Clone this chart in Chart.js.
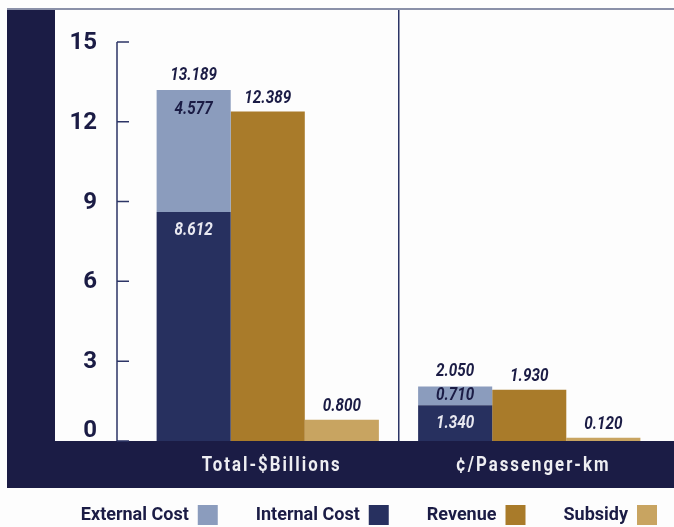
<!DOCTYPE html>
<html>
<head>
<meta charset="utf-8">
<script src="https://cdn.jsdelivr.net/npm/chart.js@4.4.1/dist/chart.umd.min.js"></script>
<style>
  html, body { margin: 0; padding: 0; background: #fdfdfd; }
  #caja { position: relative; width: 674px; height: 527px; }
</style>
</head>
<body>
<div id="caja"><canvas id="grafico"></canvas></div>
<script>
// datos del grafico
const categorias = ['Total-$Billions', '¢/Passenger-km'];
const costoInterno = [8.612, 1.340];
const costoExterno = [4.577, 0.710];
const ingresos = [12.389, 1.930];
const subsidio = [0.800, 0.120];
const marcasY = [0, 3, 6, 9, 12, 15];
const ordenLeyenda = ['External Cost', 'Internal Cost', 'Revenue', 'Subsidy'];

const azulMarco = '#1b1c45';
const letra = 'Roboto, "Liberation Sans", sans-serif';

// texto angosto (la fuente no tiene version condensada)
function textoAngosto(ctx, texto, x, y, escala) {
    ctx.save();
    ctx.translate(x, y);
    ctx.scale(escala, 1);
    ctx.fillText(texto, 0, 0);
    ctx.restore();
}

// marco azul, eje y con sus marcas, nombres de categorias y rotulos de valores
const marco = {
    id: 'marco',
    afterLayout(chart) {
        // la leyenda va corrida hacia la derecha
        chart.legend.left += 35;
        chart.legend.right += 35;
    },
    beforeDraw(chart) {
        const ctx = chart.ctx;
        const area = chart.chartArea;
        ctx.save();
        ctx.fillStyle = '#fdfdfd';
        ctx.fillRect(0, 0, chart.width, chart.height);
        ctx.fillStyle = azulMarco;
        ctx.fillRect(7, area.top, 48, area.bottom - area.top);
        ctx.fillRect(7, area.bottom, chart.width - 7, 47);
        ctx.fillStyle = '#8a90a8';
        ctx.fillRect(7, area.top - 2, chart.width - 7, 2);
        ctx.restore();
    },
    afterDatasetsDraw(chart) {
        const ctx = chart.ctx;
        const area = chart.chartArea;
        const x = chart.scales.x;
        const y = chart.scales.y;
        const ejeX = area.left - 20;
        ctx.save();
        ctx.strokeStyle = '#2c3566';
        ctx.lineWidth = 1.5;
        ctx.beginPath();
        ctx.moveTo(ejeX, y.getPixelForValue(15));
        ctx.lineTo(ejeX, y.getPixelForValue(0));
        marcasY.forEach(v => {
            const py = y.getPixelForValue(v);
            ctx.moveTo(ejeX, py);
            ctx.lineTo(ejeX + 12, py);
        });
        ctx.stroke();

        // numeros del eje y (el cero queda encima de la franja)
        ctx.fillStyle = azulMarco;
        ctx.font = 'bold 24px ' + letra;
        ctx.textAlign = 'right';
        ctx.textBaseline = 'middle';
        marcasY.forEach(v => {
            const py = Math.min(y.getPixelForValue(v), area.bottom - 11);
            ctx.fillText(String(v), ejeX - 20, py + 1);
        });

        // nombres de categorias dentro de la franja inferior
        ctx.fillStyle = '#eeeef2';
        ctx.font = 'bold 21px ' + letra;
        ctx.letterSpacing = '2.5px';
        ctx.textAlign = 'center';
        categorias.forEach((c, j) => {
            textoAngosto(ctx, c, x.getPixelForValue(j) + 4, area.bottom + 25, 0.8);
        });
        ctx.letterSpacing = '0px';

        ctx.font = 'italic bold 18px ' + letra;
        chart.data.datasets.forEach((ds, i) => {
            const meta = chart.getDatasetMeta(i);
            meta.data.forEach((barra, j) => {
                const valor = ds.data[j];
                const texto = valor.toFixed(3);
                const alto = barra.base - barra.y;
                if (ds.label === 'Internal Cost') {
                    ctx.fillStyle = '#e8e8f0';
                    textoAngosto(ctx, texto, barra.x, barra.y + Math.min(19, alto / 2), 0.85);
                } else if (ds.label === 'External Cost') {
                    ctx.fillStyle = azulMarco;
                    textoAngosto(ctx, texto, barra.x, barra.y + Math.min(19, alto / 2), 0.85);
                    const total = costoInterno[j] + costoExterno[j];
                    textoAngosto(ctx, total.toFixed(3), barra.x, y.getPixelForValue(total) - 15, 0.85);
                } else {
                    ctx.fillStyle = azulMarco;
                    textoAngosto(ctx, texto, barra.x, barra.y - 13, 0.85);
                }
            });
        });
        ctx.restore();
    }
};

const ctx = document.getElementById('grafico').getContext('2d');
const grafico = new Chart(ctx, {
    type: 'bar',
    data: {
        labels: categorias,
        datasets: [
            { label: 'Internal Cost', data: costoInterno, stack: 'costo', backgroundColor: '#27305f' },
            { label: 'External Cost', data: costoExterno, stack: 'costo', backgroundColor: '#8b9cbd' },
            { label: 'Revenue', data: ingresos, stack: 'ingreso', backgroundColor: '#a97b2a' },
            { label: 'Subsidy', data: subsidio, stack: 'subsidio', backgroundColor: '#c8a461' }
        ]
    },
    options: {
        responsive: true,
        maintainAspectRatio: false,
        animation: false,
        layout: { padding: { top: 10, right: 14, left: 0, bottom: 0 } },
        datasets: { bar: { categoryPercentage: 0.85, barPercentage: 1.0 } },
        scales: {
            x: {
                stacked: true,
                grid: {
                    offset: true,
                    drawTicks: false,
                    lineWidth: 1.5,
                    color: c => c.index === 1 ? '#2c3566' : 'rgba(0,0,0,0)'
                },
                border: { display: false },
                ticks: { display: false },
                afterFit(escala) { escala.height = 26; }
            },
            y: {
                stacked: true,
                min: 0,
                max: 16.2,
                grid: { display: false, drawTicks: false },
                border: { display: false },
                ticks: { display: false },
                afterFit(escala) {
                    escala.width = 137;
                    escala.paddingTop = 0;
                    escala.paddingBottom = 0;
                }
            }
        },
        plugins: {
            tooltip: { enabled: false },
            legend: {
                position: 'bottom',
                rtl: true,
                reverse: true,
                align: 'start',
                maxHeight: 60,
                labels: {
                    sort: (a, b) => ordenLeyenda.indexOf(a.text) - ordenLeyenda.indexOf(b.text),
                    boxWidth: 20,
                    boxHeight: 20,
                    padding: 38,
                    color: azulMarco,
                    font: { family: letra, size: 18, weight: 'bold' }
                }
            }
        }
    },
    plugins: [marco]
});
</script>
</body>
</html>
